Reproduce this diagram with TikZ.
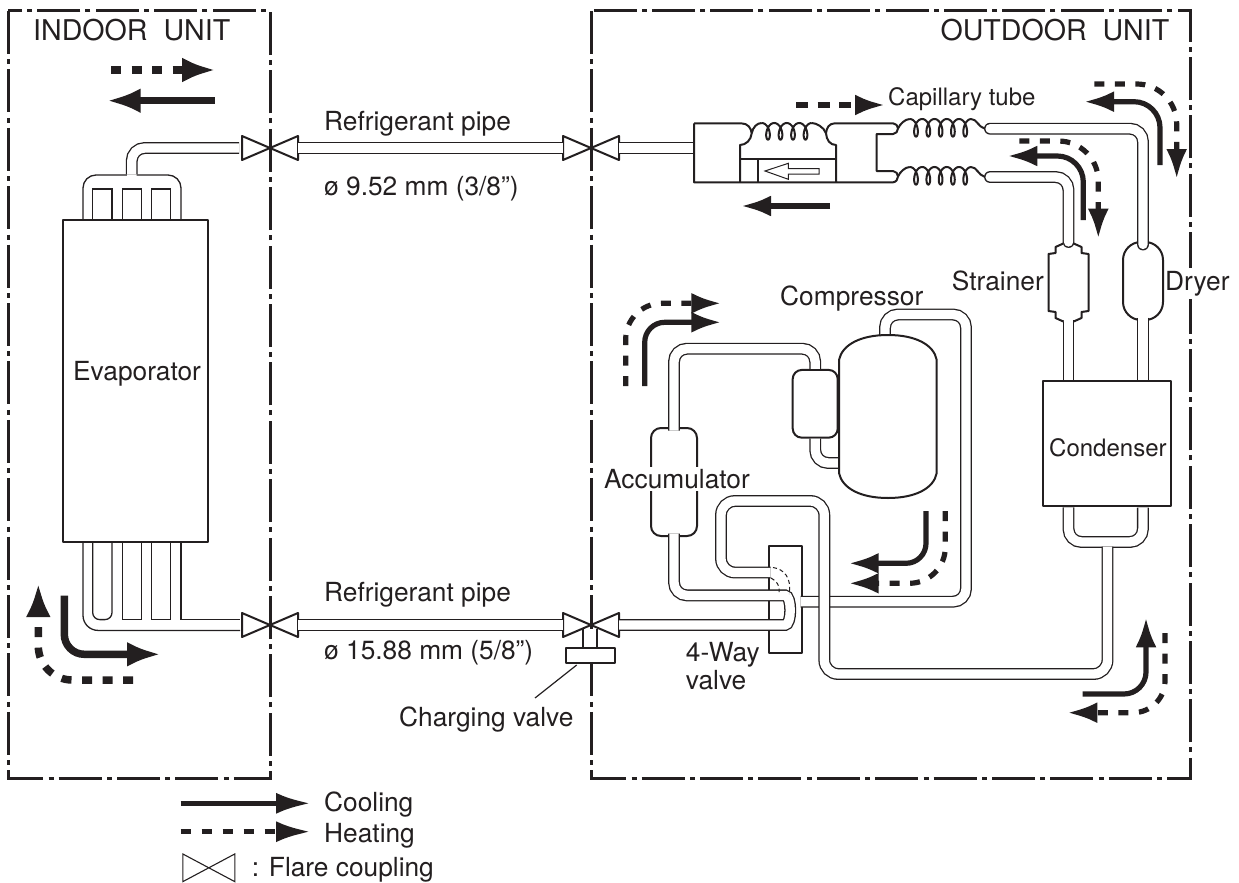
\documentclass[tikz,border=0pt]{standalone}
\usepackage{fontspec}
\setmainfont{TeX Gyre Heros}
\usetikzlibrary{arrows.meta}
\definecolor{ink}{HTML}{231F20}
\tikzset{
  lbl/.style={font=\fontsize{26.3}{28}\selectfont,inner sep=0pt,text=ink},
  lbltitle/.style={font=\fontsize{28.6}{30}\selectfont,inner sep=0pt,text=ink},
  lblsmall/.style={font=\fontsize{24}{26}\selectfont,inner sep=0pt,text=ink},
  wall/.style={draw=ink,line width=2pt,line join=round},
  hair/.style={draw=ink,line width=1.3pt},
  leaderline/.style={draw=ink,line width=1.2pt},
  unitbox/.style={draw=ink,line width=3pt,dash pattern=on 43pt off 5.4pt on 5pt off 5pt},
  pipe/.style={draw=ink,line width=1.3pt,double=white,double distance=9.3pt,rounded corners=13pt},
  unitpart/.style={wall,fill=white,inner sep=0pt,outer sep=0pt},
  flarebox/.style={inner sep=0pt,outer sep=0pt,minimum width=56pt,minimum height=24pt},
  coilwire/.style={draw=ink,line width=2pt},
  flowbig/.style={draw=ink,line width=7.5pt,shorten >=-2pt,-{Latex[length=34pt,width=25pt]}},
  flowsmall/.style={draw=ink,line width=5.2pt,shorten >=-2pt,-{Latex[length=30pt,width=21pt]}},
  broken/.style={dash pattern=on 10pt off 10.5pt},
}
\newcommand{\flare}[2]{
  \node[flarebox] (#1) at (#2) {};
  \draw[wall,fill=white] (#1.north west) -- (#1.south east) -- (#1.north east) -- (#1.south west) -- cycle;
}
% #1 first loop x, #2 top y, #3 turns, #4 pitch, #5 half height
\newcommand{\windings}[5]{
  \draw[coilwire] plot[domain=-180:(360*#3+180),samples=(40*#3+41),smooth,variable=\t]
    ({#1+#4*(\t/360)-4.5*sin(\t)},{#2+#5*(1+cos(\t))});
}
\begin{document}
\begin{tikzpicture}[x=1pt,y=-1pt]
  \useasboundingbox (0,0) rectangle (1239,883);

  % units
  \draw[unitbox] (8,11) rectangle (270,778);
  \draw[unitbox] (591,11) rectangle (1190,778);

  % evaporator
  \draw[hair,rounded corners=13pt] (83,220) -- (83,175) -- (126.8,175);
  \draw[hair,rounded corners=13pt] (181,220) -- (181,175) -- (136.6,175);
  \draw[hair] (92.7,220) -- (92.7,189) -- (112,189) -- (112,220);
  \draw[hair] (122.7,220) -- (122.7,189) -- (141.7,189) -- (141.7,220);
  \draw[hair] (151.7,220) -- (151.7,189) -- (170.7,189) -- (170.7,220);
  \draw[hair,rounded corners=15pt] (83,541) -- (83,630.4) -- (240,630.4);
  \draw[hair,rounded corners=7pt] (92.7,541) -- (92.7,619.6) -- (112,619.6) [sharp corners] -- (112,541);
  \draw[hair] (122.7,541) -- (122.7,619.6) -- (141.7,619.6) -- (141.7,541);
  \draw[hair] (151.7,541) -- (151.7,619.6) -- (170.7,619.6) -- (170.7,541);
  \draw[hair] (181,541) -- (181,619.6) -- (240,619.6);
  \node[unitpart,minimum width=145.5pt,minimum height=322pt] (evaporator) at (135.4,381) {};
  \coordinate (headertop) at (131.7,174.4);

  % charging valve
  \draw[wall,fill=white] (583.3,629) -- (583.3,648) -- (597.3,648) -- (597.3,629);
  \node[unitpart,minimum width=49.3pt,minimum height=15pt] (chargebar) at (590.7,655.5) {};
  \coordinate (chargefoot) at (576.7,665);
  \coordinate (chargeend) at (535,698);
  \draw[leaderline] (chargefoot) -- (chargeend);

  % couplings
  \flare{flareA}{270,148}
  \flare{flareB}{591,148}
  \flare{flareC}{270,625}
  \flare{flareD}{591,625}

  % parts the pipes end on
  \node[unitpart,minimum width=128pt,minimum height=125.5pt] (condenser) at (1106.7,443.7) {};
  \node[unitpart,minimum width=32.4pt,minimum height=107.6pt] (fourway) at (785.5,599.5) {};
  \node[unitpart,rounded corners=9pt,minimum width=45pt,minimum height=67.7pt] (receiver) at (815.2,403.8) {};
  \node[unitpart,rounded corners=18pt,minimum width=40pt,minimum height=78pt] (dryer) at (1143,281) {};
  \node[unitpart,rounded corners=10pt,minimum width=46pt,minimum height=108pt] (accumulator) at (674,482) {};
  \node[inner sep=0pt,outer sep=0pt,minimum width=41pt,minimum height=78pt] (strainer) at (1068.5,281) {};
  \coordinate (slidein) at (694,148);
  \coordinate (capA) at (990,128.7);
  \coordinate (capB) at (990,177);
  \coordinate (teetop) at (1107.5,546.6);
  \coordinate (fourwayin) at (770.6,572.5);
  \coordinate (fourwayout) at (800.5,601.7);
  \coordinate (shellin) at (885,340);
  \coordinate (shellside) at (845,463);

  % pipes
  \draw[pipe,shorten <=3pt] (flareA.west) -| (headertop);
  \draw[pipe] (flareA.east) -- (flareB.west);
  \draw[pipe] (flareC.east) -- (flareD.west);
  \draw[pipe] (flareB.east) -- (slidein);
  \draw[pipe,line cap=round,shorten >=-2.5pt] (capA) -| (dryer.north);
  \draw[pipe,shorten <=-2.5pt,shorten >=1pt] (dryer.south) -- (dryer.south |- condenser.north);
  \draw[pipe,line cap=round] (capB) -| (strainer.north);
  \draw[pipe,shorten >=1pt] (strainer.south) -- (strainer.south |- condenser.north);
  \draw[pipe,shorten <=1pt,shorten >=1pt] (strainer.south |- condenser.south) -- (1068.5,542) -- (1142.9,542) -- (1142.9,506.7);
  \draw[pipe] (fourwayout) -- (966,601.7) -- (966,314.5) -- (885,314.5) -- (shellin);
  \draw[pipe,rounded corners=14pt] (teetop) -- (1107.5,674) -- (824.3,674) -- (824.3,501) -- (721,501) -- (721,572.5) -- (fourwayin);
  \draw[pipe,shorten <=-2.5pt,shorten >=1pt] (accumulator.north) -- (674,348.7) -- (815.2,348.7) -- (receiver.north);
  \draw[pipe,shorten <=1pt] (receiver.south) -- (815.2,463) -- (shellside);
  \draw[pipe,shorten <=-2.5pt] (accumulator.south) -- (674,595.4) -- (772,595.4) .. controls (792,595.4) and (792,625) .. (772,625) -- (flareD.east);

  % strainer
  \draw[wall,fill=white] (strainer.north) ++(-5.2,1.5) -- ++(-7.8,3.5) -- ++(0,6) -- ++(-7,1) -- ++(0,57) -- ++(7,1) -- ++(0,6) -- ++(7.8,3.5);
  \draw[wall] (strainer.north) ++(5.2,1.5) -- ++(7.8,3.5) -- ++(0,6) -- ++(7,1) -- ++(0,57) -- ++(-7,1) -- ++(0,6) -- ++(-7.8,3.5);

  % compressor
  \draw[wall,fill=white] (839,360) .. controls (842,345) and (860,335) .. (888,335) .. controls (916,335) and (934,345) .. (936.7,360)
    -- (936.7,473) .. controls (934,488) and (916,498) .. (888,498) .. controls (860,498) and (842,488) .. (839,473) -- cycle;

  % slide box and coils
  \draw[wall] (694,123.3) -- (741,123.3) .. controls (748,123.3) and (751,128) .. (751.7,133.3) .. controls (751,140) and (746,145) .. (740,145) -- (740,182.3);
  \draw[wall] (694,123.3) -- (694,182.3) -- (893,182.3) .. controls (896,182.3) and (898,179) .. (898,176.5) .. controls (898,174) and (896,171) .. (893,171) -- (876.7,171) -- (876.7,134) -- (893,134) .. controls (896,134) and (898,131) .. (898,128.5) .. controls (898,126) and (896,123.3) .. (893,123.3) -- (835,123.3) .. controls (829,123.3) and (826.5,128) .. (826,133.3) .. controls (826.5,140) and (830,145) .. (836,145) -- (836,182.3);
  \draw[wall] (740,159.3) -- (836,159.3);
  \draw[wall] (757.7,159.3) -- (757.7,182.3);
  \draw[hair,line width=1pt] (765,171) -- (788.3,163.3) -- (788.3,168.7) -- (819,168.7) -- (819,174) -- (788.3,174) -- (788.3,179.3) -- cycle;
  \windings{768}{123}{3}{12.5}{8.3}
  \draw[coilwire] (751.7,133.3) .. controls (753,127) and (757,123) .. (761.75,123);
  \draw[coilwire] (811.75,123) .. controls (816,123) and (824,127) .. (826,133.3);
  \windings{916}{119}{4}{12.3}{8.8}
  \windings{916}{167}{4}{12.3}{8.8}
  \draw[coilwire] (898,128.5) .. controls (900,124) and (905,119) .. (909.85,119);
  \draw[coilwire] (898,176.5) .. controls (900,172) and (905,167) .. (909.85,167);
  \draw[coilwire] (971,119) .. controls (977,119) and (978,127) .. (985,128.7);
  \draw[coilwire] (971,167) .. controls (977,167) and (978,175) .. (985,177);

  % four way valve, hidden seat
  \draw[hair,line width=1pt,dash pattern=on 4pt off 3pt] (773,567.5) .. controls (784,569) and (792,578) .. (789,594);
  \draw[hair,line width=1pt,dash pattern=on 4pt off 3pt] (771,578) .. controls (777,581) and (780,586) .. (779,592);

  % flow, indoor
  \draw[flowbig,broken] (111,70) -- (214,70);
  \draw[flowbig] (214.7,100.7) -- (108.7,100.7);
  \draw[flowbig,rounded corners=20pt] (64.3,595.7) -- (64.3,654.3) -- (159,654.3);
  \draw[flowbig,broken,rounded corners=34pt] (133,680) -- (38.3,680) -- (38.3,585);

  % flow, outdoor
  \draw[flowsmall,dash pattern=on 12pt off 9.7pt] (796,105) -- (883,105);
  \draw[flowsmall] (830,206) -- (743,206);
  \draw[flowsmall,rounded corners=26pt] (1160,165) -- (1160,101.7) -- (1086,101.7);
  \draw[flowsmall,broken,rounded corners=40pt] (1094.3,84) -- (1176.7,84) -- (1176.7,177);
  \draw[flowsmall,rounded corners=26pt] (1083.3,220) -- (1083.3,156) -- (1009.3,156);
  \draw[flowsmall,broken,rounded corners=40pt] (1019.3,141) -- (1098.3,141) -- (1098.3,236.7);
  \draw[flowsmall,rounded corners=20pt] (644.7,386) -- (644.7,322.3) -- (719.3,322.3);
  \draw[flowsmall,broken,rounded corners=36pt] (625.7,386) -- (625.7,303.3) -- (719.3,303.3);
  \draw[flowsmall,rounded corners=20pt] (926,511) -- (926,563.3) -- (850.7,563.3);
  \draw[flowsmall,broken,rounded corners=36pt] (945.3,511) -- (945.3,583.3) -- (850.7,583.3);
  \draw[flowsmall,rounded corners=22pt] (1082.7,694) -- (1146,694) -- (1146,619.3);
  \draw[flowsmall,broken,rounded corners=32pt] (1165,633) -- (1165,712.7) -- (1069.3,712.7);

  % labels
  \node[lbltitle,anchor=base west] (indoorlbl) at (33,40.7) {INDOOR~~UNIT};
  \node[lbltitle,anchor=base east] (outdoorlbl) at (1169.5,40.7) {OUTDOOR~~UNIT};
  \node[lbl,anchor=base west] (pipeA) at (324,130) {Refrigerant pipe};
  \node[lbl,anchor=base west] (sizeA) at (324,195) {ø 9.52 mm (3/8")};
  \node[lbl,anchor=base west] (pipeB) at (324,601) {Refrigerant pipe};
  \node[lbl,anchor=base west] (sizeB) at (324,659) {ø 15.88 mm (5/8")};
  \node[lblsmall,anchor=base west] (capillary) at (888,105) {Capillary tube};
  \node[lbl,anchor=base east] (strainerlbl) at (1044,290) {Strainer};
  \node[lbl,anchor=base west,fill=white,inner ysep=3pt] (dryerlbl) at (1165,290) {Dryer};
  \node[lbl,anchor=base west] (compressorlbl) at (780,305) {Compressor};
  \node[lbl,anchor=base west] (evaporatorlbl) at (73,380) {Evaporator};
  \node[lbl,anchor=base west,fill=white,inner ysep=2pt] (accumulatorlbl) at (604,488.5) {Accumulator};
  \node[lblsmall,anchor=base west] (condenserlbl) at (1049,456) {Condenser};
  \node[lbl,anchor=base west] (fourwaylblA) at (685.7,661.7) {4-Way};
  \node[lbl,anchor=base west] (fourwaylblB) at (685.7,689.3) {valve};
  \node[lbl,anchor=base west] (chargelbl) at (399,726) {Charging valve};

  % legend
  \draw[draw=ink,line width=5.2pt,shorten >=-2pt,-{Latex[length=35pt,width=21pt]}] (180.7,803.3) -- (309,803.3);
  \draw[draw=ink,line width=5.2pt,shorten >=-2pt,dash pattern=on 10pt off 11pt,-{Latex[length=35pt,width=21pt]}] (180.7,831.7) -- (309,831.7);
  \node[lbl,anchor=base west] (coolinglbl) at (324,811.7) {Cooling};
  \node[lbl,anchor=base west] (heatinglbl) at (324,842.3) {Heating};
  \node[inner sep=0pt,outer sep=0pt,minimum width=52pt,minimum height=27.7pt] (flarekey) at (208.8,867.8) {};
  \draw[hair,line width=1.1pt] (flarekey.north west) -- (flarekey.south east) -- (flarekey.north east) -- (flarekey.south west) -- cycle;
  \node[lbl,anchor=base west] (flarelbl) at (251.7,876.7) {: Flare coupling};
\end{tikzpicture}
\end{document}
